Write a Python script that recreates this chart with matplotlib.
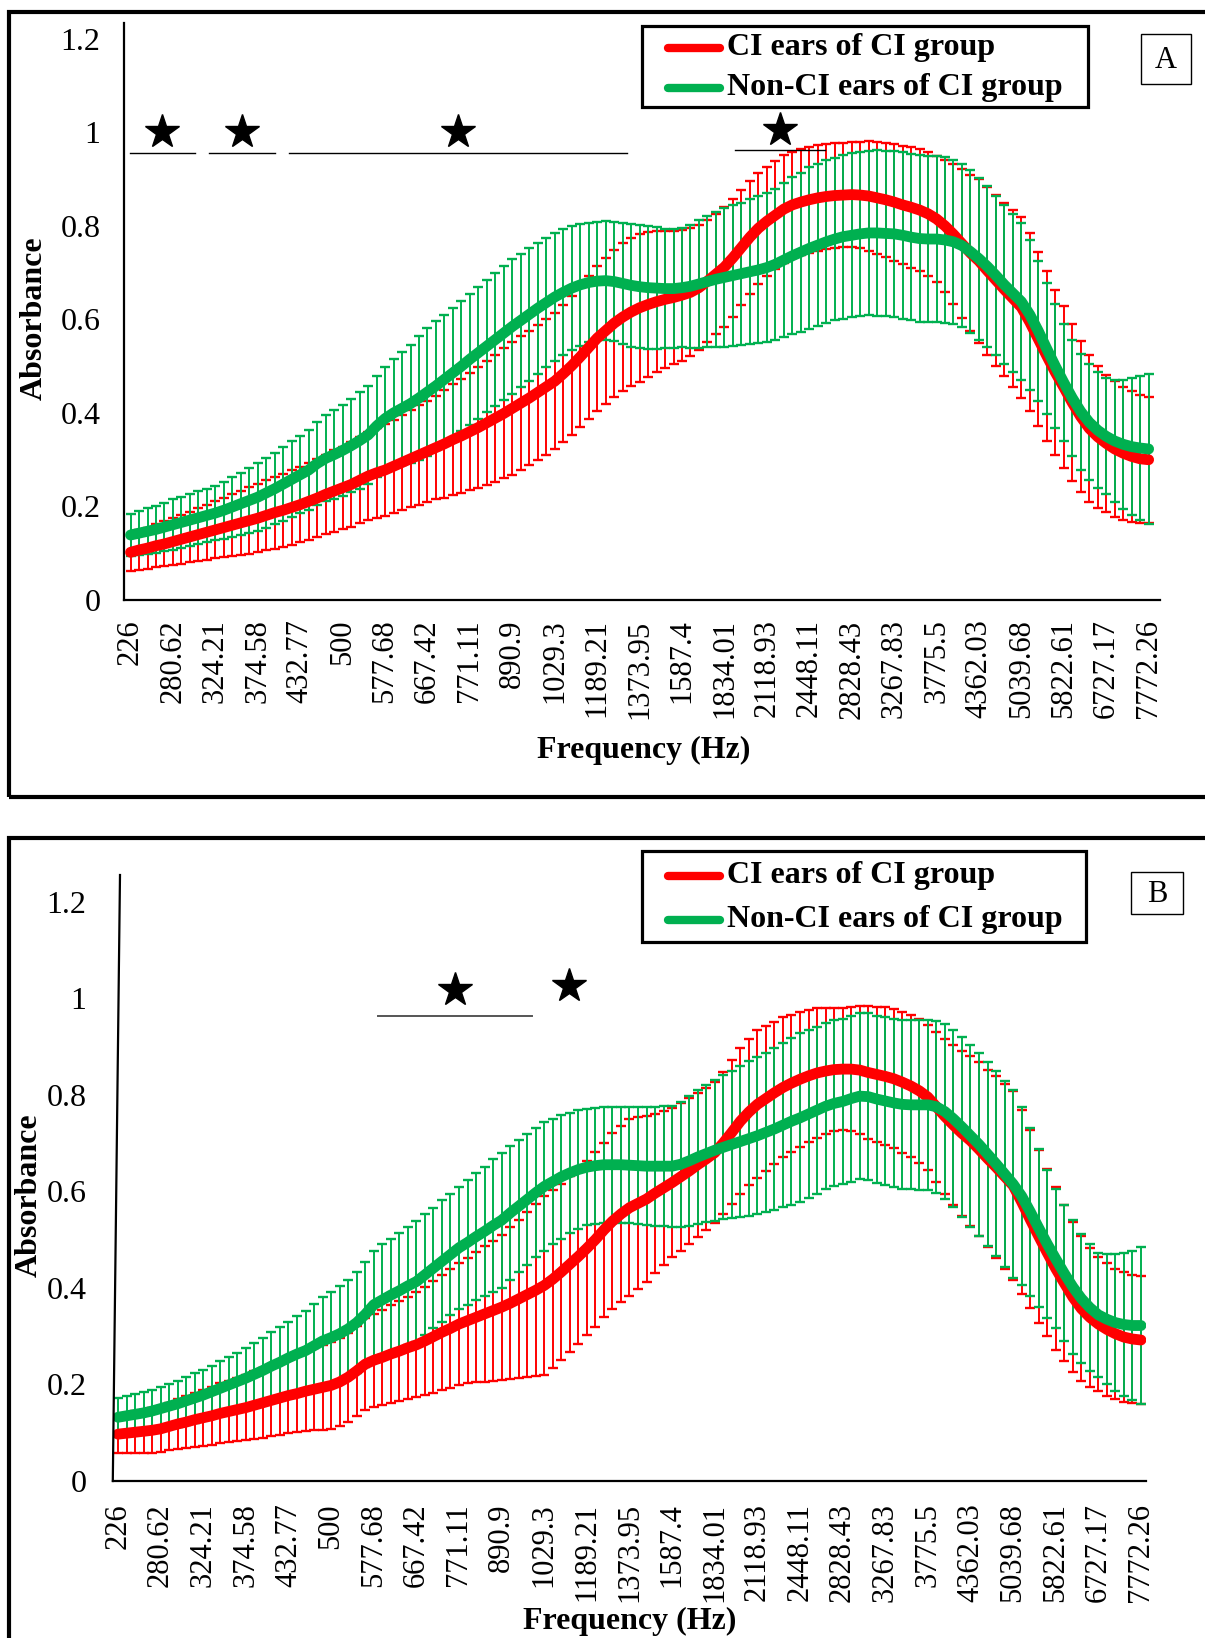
import numpy as np
import matplotlib.pyplot as plt
from matplotlib.lines import Line2D
from matplotlib.patches import Rectangle

plt.rcParams['font.family'] = 'Liberation Serif'

W, H = 1205, 1638  # output size in pixels (dpi 100)

# ---------------- data ----------------
freq_labels = ['226', '280.62', '324.21', '374.58', '432.77', '500', '577.68', '667.42',
               '771.11', '890.9', '1029.3', '1189.21', '1373.95', '1587.4', '1834.01',
               '2118.93', '2448.11', '2828.43', '3267.83', '3775.5', '4362.03', '5039.68',
               '5822.61', '6727.17', '7772.26']
label_step = 5  # one label every 5 frequency bins

series_names = ['CI ears of CI group', 'Non-CI ears of CI group']
series_colors = ['#FF0000', '#00B050']

# panel A : mean absorbance and SD per frequency bin
ci_mean_a = [
    0.102, 0.107, 0.111, 0.116, 0.120, 0.125, 0.130, 0.135, 0.140, 0.145,
    0.150, 0.155, 0.160, 0.165, 0.170, 0.175, 0.181, 0.187, 0.192, 0.198,
    0.204, 0.211, 0.218, 0.226, 0.233, 0.240, 0.247, 0.256, 0.265, 0.272,
    0.278, 0.286, 0.294, 0.302, 0.310, 0.318, 0.326, 0.334, 0.343, 0.351,
    0.360, 0.369, 0.379, 0.389, 0.399, 0.410, 0.421, 0.432, 0.444, 0.456,
    0.468, 0.484, 0.501, 0.520, 0.540, 0.560, 0.576, 0.592, 0.605, 0.616,
    0.625, 0.632, 0.638, 0.643, 0.647, 0.652, 0.658, 0.668, 0.682, 0.697,
    0.712, 0.732, 0.754, 0.776, 0.795, 0.810, 0.823, 0.836, 0.845, 0.851,
    0.856, 0.860, 0.863, 0.865, 0.866, 0.867, 0.866, 0.864, 0.860, 0.856,
    0.851, 0.845, 0.840, 0.834, 0.826, 0.815, 0.800, 0.782, 0.762, 0.742,
    0.725, 0.704, 0.684, 0.664, 0.645, 0.626, 0.594, 0.558, 0.522, 0.487,
    0.455, 0.422, 0.392, 0.367, 0.349, 0.335, 0.323, 0.314, 0.307, 0.302,
    0.300]
ci_sd_a = [
    0.040, 0.042, 0.044, 0.046, 0.048, 0.050, 0.052, 0.054, 0.057, 0.059,
    0.061, 0.063, 0.066, 0.068, 0.071, 0.073, 0.075, 0.077, 0.078, 0.080,
    0.081, 0.082, 0.084, 0.085, 0.087, 0.088, 0.090, 0.092, 0.094, 0.096,
    0.098, 0.100, 0.102, 0.104, 0.106, 0.108, 0.111, 0.115, 0.118, 0.122,
    0.125, 0.129, 0.132, 0.136, 0.139, 0.142, 0.143, 0.144, 0.144, 0.145,
    0.145, 0.147, 0.149, 0.151, 0.153, 0.155, 0.156, 0.157, 0.158, 0.158,
    0.158, 0.155, 0.151, 0.147, 0.143, 0.140, 0.137, 0.134, 0.131, 0.129,
    0.128, 0.126, 0.123, 0.121, 0.119, 0.117, 0.116, 0.115, 0.114, 0.113,
    0.113, 0.113, 0.112, 0.112, 0.112, 0.112, 0.114, 0.117, 0.120, 0.122,
    0.125, 0.127, 0.129, 0.131, 0.133, 0.135, 0.142, 0.150, 0.159, 0.167,
    0.175, 0.179, 0.183, 0.186, 0.190, 0.193, 0.190, 0.186, 0.181, 0.177,
    0.173, 0.168, 0.162, 0.157, 0.152, 0.147, 0.145, 0.142, 0.140, 0.137,
    0.135]
nonci_mean_a = [
    0.139, 0.143, 0.147, 0.151, 0.156, 0.161, 0.166, 0.171, 0.176, 0.181,
    0.186, 0.192, 0.199, 0.206, 0.213, 0.220, 0.229, 0.238, 0.248, 0.258,
    0.268, 0.278, 0.292, 0.303, 0.311, 0.320, 0.330, 0.341, 0.353, 0.372,
    0.388, 0.400, 0.410, 0.420, 0.432, 0.445, 0.458, 0.472, 0.486, 0.500,
    0.515, 0.529, 0.543, 0.557, 0.571, 0.585, 0.598, 0.611, 0.624, 0.636,
    0.648, 0.658, 0.667, 0.674, 0.679, 0.682, 0.683, 0.681, 0.677, 0.673,
    0.670, 0.668, 0.667, 0.666, 0.666, 0.668, 0.671, 0.676, 0.681, 0.686,
    0.690, 0.694, 0.698, 0.702, 0.706, 0.711, 0.718, 0.727, 0.736, 0.744,
    0.752, 0.759, 0.766, 0.772, 0.777, 0.780, 0.783, 0.785, 0.785, 0.784,
    0.783, 0.780, 0.776, 0.773, 0.772, 0.772, 0.770, 0.766, 0.758, 0.745,
    0.730, 0.713, 0.694, 0.674, 0.656, 0.638, 0.610, 0.575, 0.537, 0.500,
    0.465, 0.432, 0.403, 0.380, 0.363, 0.350, 0.340, 0.333, 0.328, 0.325,
    0.323]
nonci_sd_a = [
    0.045, 0.047, 0.049, 0.050, 0.052, 0.054, 0.055, 0.056, 0.057, 0.057,
    0.058, 0.061, 0.064, 0.066, 0.069, 0.072, 0.074, 0.076, 0.079, 0.081,
    0.083, 0.086, 0.089, 0.092, 0.095, 0.098, 0.100, 0.103, 0.105, 0.108,
    0.110, 0.115, 0.121, 0.126, 0.132, 0.137, 0.138, 0.138, 0.139, 0.139,
    0.140, 0.141, 0.142, 0.143, 0.144, 0.145, 0.143, 0.142, 0.140, 0.138,
    0.137, 0.135, 0.132, 0.130, 0.128, 0.126, 0.127, 0.128, 0.130, 0.131,
    0.132, 0.131, 0.130, 0.128, 0.127, 0.127, 0.131, 0.136, 0.140, 0.144,
    0.148, 0.150, 0.152, 0.155, 0.157, 0.159, 0.162, 0.165, 0.168, 0.170,
    0.173, 0.173, 0.174, 0.174, 0.175, 0.175, 0.176, 0.176, 0.177, 0.177,
    0.178, 0.178, 0.178, 0.178, 0.178, 0.178, 0.177, 0.176, 0.175, 0.174,
    0.173, 0.172, 0.171, 0.170, 0.169, 0.168, 0.160, 0.150, 0.140, 0.132,
    0.125, 0.124, 0.124, 0.124, 0.124, 0.124, 0.130, 0.138, 0.146, 0.153,
    0.160]

# panel B
ci_mean_b = [
    0.097, 0.099, 0.101, 0.103, 0.105, 0.108, 0.113, 0.118, 0.122, 0.127,
    0.131, 0.135, 0.140, 0.144, 0.148, 0.152, 0.157, 0.162, 0.167, 0.172,
    0.177, 0.181, 0.186, 0.190, 0.194, 0.198, 0.205, 0.215, 0.228, 0.242,
    0.250, 0.256, 0.263, 0.269, 0.276, 0.282, 0.290, 0.299, 0.308, 0.316,
    0.325, 0.332, 0.339, 0.346, 0.353, 0.360, 0.368, 0.377, 0.386, 0.395,
    0.405, 0.418, 0.433, 0.449, 0.465, 0.482, 0.500, 0.520, 0.538, 0.553,
    0.566, 0.575, 0.584, 0.596, 0.607, 0.618, 0.630, 0.642, 0.655, 0.667,
    0.680, 0.700, 0.722, 0.745, 0.764, 0.780, 0.792, 0.804, 0.815, 0.824,
    0.832, 0.839, 0.845, 0.849, 0.852, 0.853, 0.853, 0.851, 0.846, 0.842,
    0.838, 0.833, 0.826, 0.818, 0.808, 0.795, 0.775, 0.755, 0.737, 0.720,
    0.705, 0.687, 0.668, 0.650, 0.631, 0.612, 0.578, 0.542, 0.507, 0.473,
    0.440, 0.410, 0.381, 0.357, 0.339, 0.325, 0.314, 0.305, 0.298, 0.294,
    0.292]
ci_sd_b = [
    0.040, 0.041, 0.043, 0.044, 0.046, 0.047, 0.049, 0.051, 0.054, 0.056,
    0.058, 0.060, 0.062, 0.064, 0.066, 0.068, 0.070, 0.072, 0.074, 0.076,
    0.078, 0.080, 0.083, 0.085, 0.088, 0.090, 0.091, 0.092, 0.094, 0.095,
    0.096, 0.099, 0.101, 0.104, 0.106, 0.109, 0.112, 0.116, 0.119, 0.123,
    0.126, 0.130, 0.135, 0.140, 0.145, 0.150, 0.157, 0.164, 0.171, 0.178,
    0.185, 0.184, 0.183, 0.182, 0.181, 0.180, 0.181, 0.181, 0.182, 0.182,
    0.183, 0.178, 0.171, 0.165, 0.160, 0.155, 0.153, 0.151, 0.149, 0.147,
    0.146, 0.147, 0.149, 0.151, 0.152, 0.153, 0.150, 0.147, 0.145, 0.142,
    0.140, 0.137, 0.134, 0.131, 0.128, 0.126, 0.129, 0.133, 0.137, 0.140,
    0.143, 0.144, 0.146, 0.147, 0.149, 0.150, 0.155, 0.161, 0.166, 0.171,
    0.176, 0.180, 0.184, 0.188, 0.191, 0.195, 0.190, 0.184, 0.179, 0.173,
    0.168, 0.162, 0.156, 0.150, 0.144, 0.138, 0.137, 0.135, 0.134, 0.133,
    0.132]
nonci_mean_b = [
    0.132, 0.135, 0.138, 0.141, 0.145, 0.150, 0.155, 0.160, 0.166, 0.172,
    0.178, 0.185, 0.192, 0.199, 0.206, 0.213, 0.221, 0.229, 0.238, 0.246,
    0.255, 0.263, 0.270, 0.280, 0.290, 0.297, 0.305, 0.315, 0.328, 0.345,
    0.365, 0.375, 0.385, 0.394, 0.404, 0.413, 0.427, 0.441, 0.455, 0.469,
    0.483, 0.494, 0.506, 0.517, 0.529, 0.540, 0.555, 0.569, 0.583, 0.597,
    0.610, 0.620, 0.630, 0.638, 0.645, 0.650, 0.653, 0.655, 0.655, 0.655,
    0.654, 0.653, 0.652, 0.652, 0.652, 0.652, 0.656, 0.663, 0.671, 0.678,
    0.685, 0.691, 0.697, 0.703, 0.709, 0.715, 0.722, 0.729, 0.737, 0.745,
    0.752, 0.760, 0.768, 0.776, 0.782, 0.786, 0.792, 0.797, 0.796, 0.791,
    0.787, 0.783, 0.780, 0.779, 0.779, 0.779, 0.775, 0.765, 0.750, 0.733,
    0.715, 0.697, 0.677, 0.657, 0.636, 0.615, 0.590, 0.558, 0.524, 0.491,
    0.460, 0.430, 0.402, 0.378, 0.359, 0.344, 0.335, 0.328, 0.324, 0.322,
    0.322]
nonci_sd_b = [
    0.040, 0.041, 0.042, 0.043, 0.044, 0.045, 0.046, 0.048, 0.049, 0.051,
    0.052, 0.054, 0.056, 0.058, 0.060, 0.062, 0.065, 0.067, 0.070, 0.072,
    0.075, 0.079, 0.083, 0.087, 0.091, 0.095, 0.098, 0.102, 0.105, 0.109,
    0.112, 0.115, 0.117, 0.120, 0.122, 0.125, 0.125, 0.125, 0.126, 0.126,
    0.126, 0.129, 0.132, 0.134, 0.137, 0.140, 0.139, 0.137, 0.136, 0.134,
    0.133, 0.130, 0.128, 0.125, 0.123, 0.120, 0.120, 0.120, 0.120, 0.120,
    0.120, 0.121, 0.122, 0.123, 0.124, 0.125, 0.129, 0.134, 0.138, 0.142,
    0.146, 0.149, 0.153, 0.156, 0.160, 0.163, 0.165, 0.168, 0.170, 0.173,
    0.175, 0.174, 0.173, 0.172, 0.172, 0.171, 0.172, 0.172, 0.173, 0.173,
    0.174, 0.174, 0.175, 0.175, 0.176, 0.176, 0.178, 0.181, 0.183, 0.186,
    0.188, 0.189, 0.190, 0.192, 0.193, 0.194, 0.184, 0.174, 0.164, 0.154,
    0.144, 0.141, 0.138, 0.134, 0.131, 0.128, 0.135, 0.142, 0.148, 0.155,
    0.162]

# significant ranges (bin index start, end, bar level); star drawn over the middle
sig_a = [(-0.1, 7.6, 0.957), (9.2, 17.0, 0.957), (18.7, 58.5, 0.957), (71.3, 81.9, 0.963)]
sig_b = [(30.5, 48.6, 0.962)]
lone_star_b = [(52.9, 1.025)]

yticks = [0, 0.2, 0.4, 0.6, 0.8, 1.0, 1.2]
ytick_labels = ['0', '0.2', '0.4', '0.6', '0.8', '1', '1.2']


def fx(x):
    return x / W


def fy(y):
    return 1 - y / H


def draw_panel(ax, means, sds, xlim, ytop, sigs, star_dy, bar_color, bar_lw):
    x = np.arange(len(means[0]))
    for k, (m, s) in enumerate(zip(means, sds)):
        ax.errorbar(x, m, yerr=s, fmt='none', ecolor=series_colors[k],
                    elinewidth=1.4, capsize=3.3, capthick=1.7, zorder=2 + k)
    for k, m in enumerate(means):
        ax.plot(x, m, color=series_colors[k], lw=7.8, solid_capstyle='round',
                solid_joinstyle='round', zorder=4 + k)
    for a, b, lev in sigs:
        ax.plot([a, b], [lev, lev], color=bar_color, lw=bar_lw, zorder=6)
        ax.plot((a + b) / 2, lev + star_dy, marker='*', ms=25.7, color='black',
                linestyle='none', zorder=6)
    ax.set_xlim(*xlim)
    ax.set_ylim(0, ytop)
    ax.set_xticks(np.arange(0, len(x), label_step))
    ax.set_xticklabels(freq_labels, rotation=90, fontsize=22)
    ax.set_yticks(yticks)
    ax.set_yticklabels(ytick_labels, fontsize=23)
    ax.tick_params(axis='both', length=0)
    for side in ['top', 'right']:
        ax.spines[side].set_visible(False)
    for side in ['left', 'bottom']:
        ax.spines[side].set_linewidth(1.6)
        ax.spines[side].set_color('black')


def draw_legend(fig, box, rows):
    x0, y0, x1, y1 = box
    fig.add_artist(Rectangle((fx(x0), fy(y1)), fx(x1) - fx(x0), (y1 - y0) / H,
                             transform=fig.transFigure, fill=False, lw=2.3,
                             edgecolor='black'))
    for k, yy in enumerate(rows):
        fig.add_artist(Line2D([fx(x0 + 26), fx(x0 + 78)], [fy(yy), fy(yy)],
                              transform=fig.transFigure, color=series_colors[k],
                              lw=6, solid_capstyle='round'))
        fig.text(fx(x0 + 85), fy(yy), series_names[k], fontsize=23,
                 fontweight='bold', ha='left', va='center')


def draw_tag(fig, box, letter):
    x0, y0, x1, y1 = box
    fig.add_artist(Rectangle((fx(x0), fy(y1)), fx(x1) - fx(x0), (y1 - y0) / H,
                             transform=fig.transFigure, fill=False, lw=1.0,
                             edgecolor='black'))
    fig.text(fx((x0 + x1) / 2), fy((y0 + y1) / 2 + 2), letter, fontsize=22,
             ha='center', va='center')


fig = plt.figure(figsize=(W / 100, H / 100), dpi=100)

# outer frames around each panel
fig.add_artist(Rectangle((fx(8.5), fy(797)), fx(1230) - fx(8.5), (797 - 11.5) / H,
                         transform=fig.transFigure, fill=False, lw=3, edgecolor='black'))
fig.add_artist(Rectangle((fx(8.5), fy(1660)), fx(1230) - fx(8.5), (1660 - 837.5) / H,
                         transform=fig.transFigure, fill=False, lw=3, edgecolor='black'))

# ---------------- panel A ----------------
ax_a = fig.add_axes([fx(124), fy(600), (1160 - 124) / W, (600 - 23) / H])
draw_panel(ax_a, [ci_mean_a, nonci_mean_a], [ci_sd_a, nonci_sd_a],
           (-0.77, 121.34), 1.234, sig_a, 0.043, 'black', 1.0)
ax_a.tick_params(axis='x', pad=14)
ax_a.tick_params(axis='y', pad=17)
ax_a.set_ylabel('Absorbance', fontsize=23, fontweight='bold', va='center')
ax_a.yaxis.set_label_coords(-0.0864, 0.488)
ax_a.set_xlabel('Frequency (Hz)', fontsize=23, fontweight='bold', va='center')
ax_a.xaxis.set_label_coords(0.502, -0.26)
draw_legend(fig, (642, 26, 1088, 106.5), [48, 87.5])
draw_tag(fig, (1141, 34.5, 1191, 83.5), 'A')

# ---------------- panel B ----------------
ax_b = fig.add_axes([fx(112.8), fy(1481), (1145.5 - 112.8) / W, (1481 - 875) / H])
draw_panel(ax_b, [ci_mean_b, nonci_mean_b], [ci_sd_b, nonci_sd_b],
           (-0.61, 120.53), 1.255, sig_b, 0.054, '#555555', 1.4)
for xs, ys in lone_star_b:
    ax_b.plot(xs, ys, marker='*', ms=25.7, color='black', linestyle='none', zorder=6)
ax_b.spines['left'].set_visible(False)
# the vertical axis of this panel leans slightly
fig.add_artist(Line2D([fx(120), fx(112.8)], [fy(875), fy(1481)],
                      transform=fig.transFigure, color='black', lw=1.6))
ax_b.tick_params(axis='x', pad=16)
ax_b.tick_params(axis='y', pad=19)
ax_b.set_ylabel('Absorbance', fontsize=23, fontweight='bold', va='center')
ax_b.yaxis.set_label_coords(-0.0805, 0.471)
ax_b.set_xlabel('Frequency (Hz)', fontsize=23, fontweight='bold', va='center')
ax_b.xaxis.set_label_coords(0.5004, -0.232)
draw_legend(fig, (642, 851, 1086, 942), [876, 920])
draw_tag(fig, (1131, 872, 1183, 914), 'B')

fig.savefig('out.png', dpi=100)
